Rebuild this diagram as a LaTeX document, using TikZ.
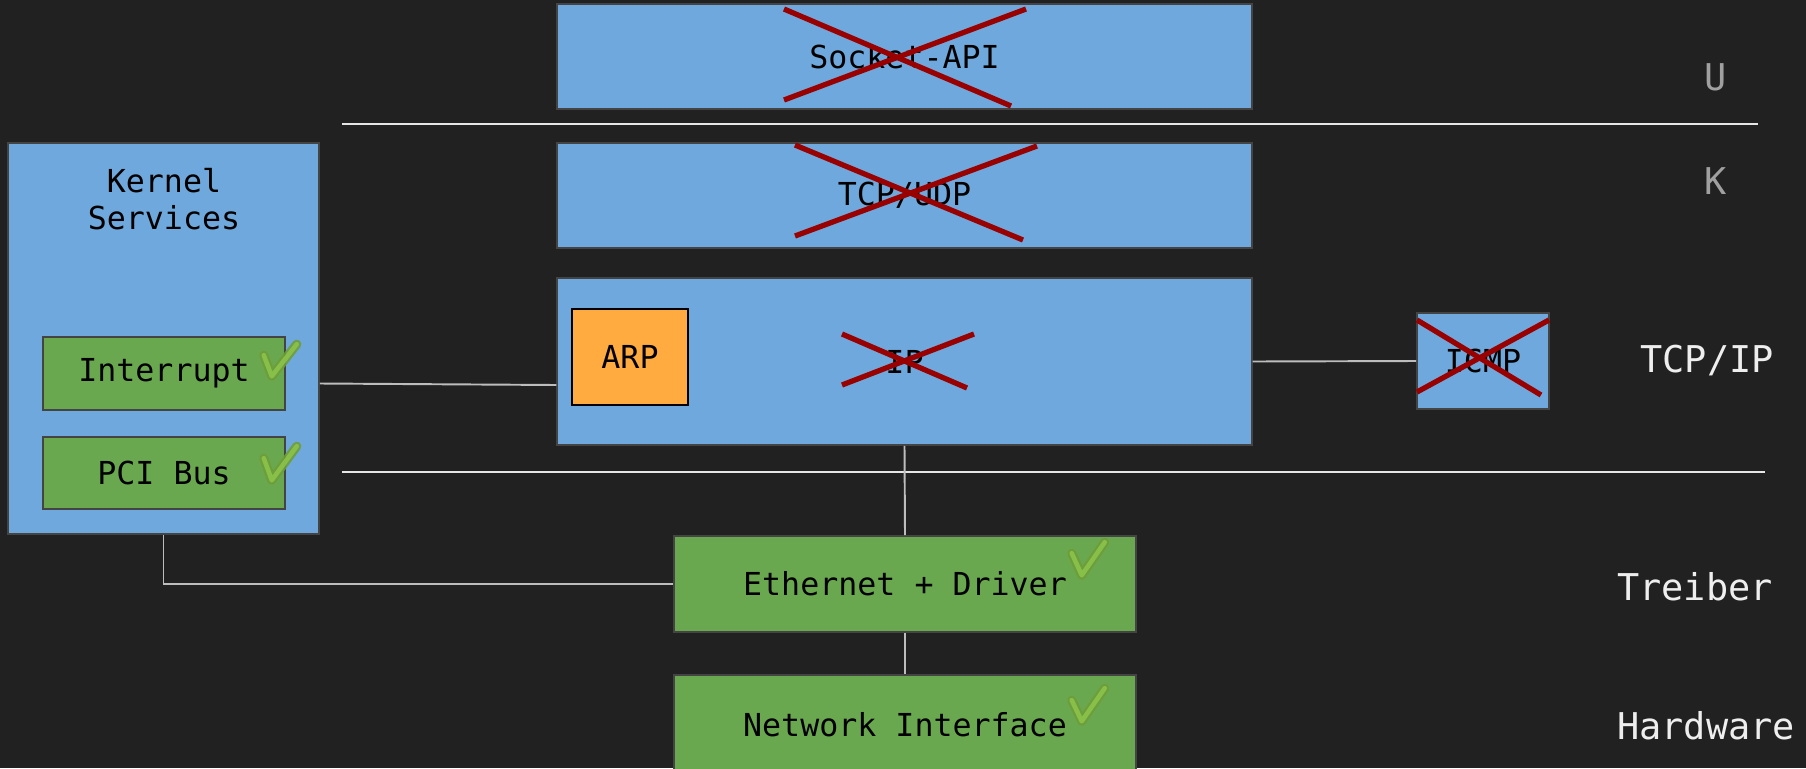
\documentclass[tikz,border=0pt]{standalone}
\usepackage{fontspec}
\setmonofont{DejaVu Sans Mono}
\usetikzlibrary{calc}
\definecolor{bgc}{HTML}{212121}
\definecolor{bluec}{HTML}{6FA8DC}
\definecolor{greenc}{HTML}{6AA84F}
\definecolor{orangec}{HTML}{FFAB40}
\definecolor{redc}{HTML}{990000}
\definecolor{edgec}{HTML}{444444}
\definecolor{linec}{HTML}{BDBDBD}
\definecolor{sepc}{HTML}{E6E6E6}
\definecolor{labu}{HTML}{A0A0A0}
\definecolor{labw}{HTML}{EEEEEE}
\definecolor{chkdark}{HTML}{6E9E3A}
\definecolor{chklight}{HTML}{8BC34A}
\begin{document}
\begin{tikzpicture}[x=0.02cm,y=-0.02cm,
  boxbase/.style={draw=edgec,line width=0.9pt,inner sep=0pt,font=\ttfamily\fontsize{18}{22}\selectfont,text=black},
  bluebox/.style={boxbase,fill=bluec},
  greenbox/.style={boxbase,fill=greenc},
  orangebox/.style={boxbase,fill=orangec,draw=black},
  boxtext/.style={font=\ttfamily\fontsize{18}{21}\selectfont,text=black,inner sep=0pt,align=center},
  sidelabel/.style={font=\ttfamily\fontsize{21}{25}\selectfont,inner sep=0pt},
  conn/.style={draw=linec,line width=1.1pt},
  sepline/.style={draw=sepc,line width=1.1pt},
  crossline/.style={draw=redc,line width=3pt},
  chkouter/.style={draw=chkdark,line width=5.2pt,line cap=round,line join=round,opacity=0.9},
  chkinner/.style={draw=chklight,line width=2.6pt,line cap=round,line join=round,opacity=0.9}
]
\fill[bgc] (0,0) rectangle (1806,768);
\useasboundingbox (0,0) rectangle (1806,768);

% separators
\coordinate (s1a) at (342,124); \coordinate (s1b) at (1758,124);
\coordinate (s2a) at (342,472); \coordinate (s2b) at (1765,472);
\draw[sepline] (s1a) -- (s1b);
\draw[sepline] (s2a) -- (s2b);

% boxes
\node[bluebox,minimum width=13.9cm,minimum height=2.1cm] (sock) at (904.5,56.5) {Socket-API};
\node[bluebox,minimum width=13.9cm,minimum height=2.1cm] (tcpudp) at (904.5,195.5) {TCP/UDP};
\node[bluebox,minimum width=13.9cm,minimum height=3.34cm] (ip) at (904.5,361.5) {IP};
\node[orangebox,minimum width=2.32cm,minimum height=1.92cm] (arp) at (630,357) {ARP};
\node[bluebox,minimum width=2.64cm,minimum height=1.92cm] (icmp) at (1483,361) {ICMP};
\node[bluebox,minimum width=6.22cm,minimum height=7.82cm] (kern) at (163.5,338.5) {};
\node[boxtext] (kerntxt) at (164,199) {Kernel\\Services};
\node[greenbox,minimum width=4.84cm,minimum height=1.46cm] (intr) at (164,373.5) {Interrupt};
\node[greenbox,minimum width=4.84cm,minimum height=1.44cm] (pci) at (164,473) {PCI Bus};
\node[greenbox,minimum width=9.24cm,minimum height=1.92cm] (eth) at (905,584) {Ethernet + Driver};
\node[greenbox,minimum width=9.24cm,minimum height=2.0cm] (net) at (905,725) {Network Interface};

% connectors
\coordinate (kx) at ($(kern.east)+(0,45)$);
\coordinate (ix) at ($(ip.west)+(0,23.5)$);
\draw[conn] (kx) -- (ix);
\draw[conn] (ip.south) -- (eth.north);
\draw[conn] (ip.east) -- (icmp.west);
\draw[conn] (kern.south) -- (kern.south |- eth.west) -- (eth.west);
\draw[conn] (eth.south) -- (net.north);

% crosses
\coordinate (c1a) at (784,9);   \coordinate (c1b) at (1011,106);
\coordinate (c1c) at (784,100); \coordinate (c1d) at (1026,9);
\draw[crossline] (c1a) -- (c1b); \draw[crossline] (c1c) -- (c1d);
\coordinate (c2a) at (795,145); \coordinate (c2b) at (1023,240);
\coordinate (c2c) at (795,236); \coordinate (c2d) at (1037,146);
\draw[crossline] (c2a) -- (c2b); \draw[crossline] (c2c) -- (c2d);
\coordinate (c3a) at (842,334); \coordinate (c3b) at (967,388);
\coordinate (c3c) at (842,385); \coordinate (c3d) at (974,334);
\draw[crossline] (c3a) -- (c3b); \draw[crossline] (c3c) -- (c3d);
\coordinate (c4a) at (1417,320); \coordinate (c4b) at (1541,395);
\coordinate (c4c) at (1417,392); \coordinate (c4d) at (1549,320);
\draw[crossline] (c4a) -- (c4b); \draw[crossline] (c4c) -- (c4d);

% check marks
\foreach \n/\ax/\ay/\bx/\by/\cx/\cy in {intr/-22/19/-14/40/11/8, pci/-22/22/-14/44/11/10, eth/-65/18/-55/40/-32/7, net/-65/26/-55/47/-32/14}{
  \draw[chkouter] ($(\n.north east)+(\ax,\ay)$) -- ($(\n.north east)+(\bx,\by)$) -- ($(\n.north east)+(\cx,\cy)$);
  \draw[chkinner] ($(\n.north east)+(\ax,\ay)$) -- ($(\n.north east)+(\bx,\by)$) -- ($(\n.north east)+(\cx,\cy)$);
}

% side labels
\node[sidelabel,text=labu] (lu) at (1716,77) {U};
\node[sidelabel,text=labu] (lk) at (1716,181) {K};
\node[sidelabel,text=labw] (ltcp) at (1707,361) {TCP/IP};
\node[sidelabel,text=labw] (ltr) at (1695,587) {Treiber};
\node[sidelabel,text=labw] (lhw) at (1706,726) {Hardware};
\end{tikzpicture}
\end{document}
